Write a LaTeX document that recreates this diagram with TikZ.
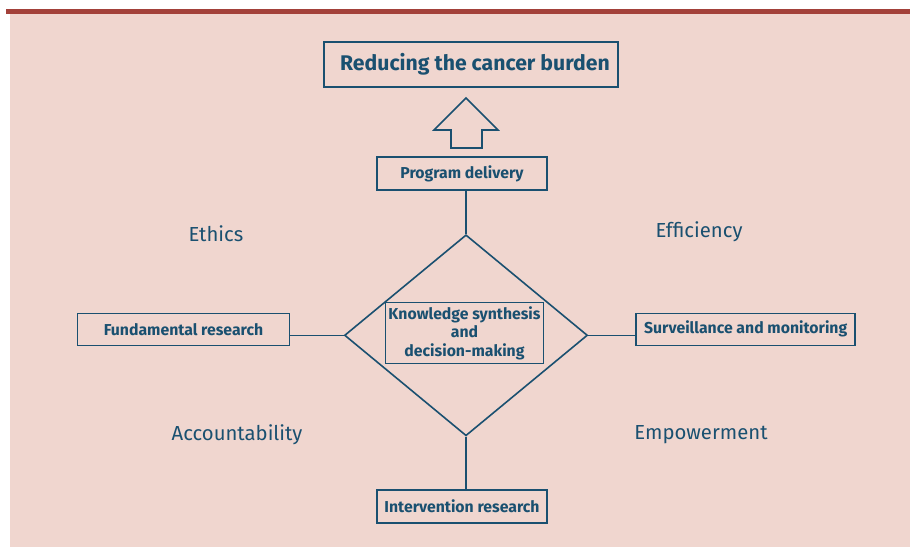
\documentclass[tikz,border=0pt]{standalone}
\usepackage{fontspec}
\setmainfont{Fira Sans}
\usetikzlibrary{shapes.geometric,positioning}

\definecolor{bgpink}{HTML}{F0D6CF}
\definecolor{barred}{HTML}{A3413A}
\definecolor{inkblue}{HTML}{1A5070}

\tikzset{
  box/.style={draw=inkblue, line width=1.6pt, text=inkblue, font=\bfseries\fontsize{15.8}{18.5}\selectfont,
    inner sep=0pt, minimum height=32pt},
  value/.style={text=inkblue, font=\fontsize{20.3}{24}\selectfont},
  link/.style={draw=inkblue, line width=1.6pt}
}

\begin{document}
\begin{tikzpicture}[x=1pt, y=-1pt]
  \useasboundingbox (0,0) rectangle (910,548);
  \fill[bgpink] (10,14) rectangle (910,547);
  \fill[barred] (6,9) rectangle (910,14);

  % goal at the top
  \node[box, minimum width=294pt, minimum height=45pt, font=\bfseries\fontsize{21.2}{25}\selectfont]
    (goal) at (471,64.5) {\hspace{8pt}Reducing the cancer burden};
  \draw[link, line join=miter] (451,148) -- (451,130) -- (434,130) -- (466,98)
    -- (498,130) -- (482,130) -- (482,148) -- cycle;

  % centre
  \node[diamond, draw=inkblue, line width=1.6pt, minimum width=243pt, minimum height=201pt,
    inner sep=0pt] (hub) at (466,335.3) {};
  \node[box, minimum width=158pt, minimum height=61pt, align=center] (synth) at (464.5,333)
    {Knowledge synthesis\\and\\decision-making};

  % the four activities
  \node[box, minimum width=170pt, minimum height=33pt] (deliver) at (462,173.5) {Program delivery};
  \node[box, minimum width=212pt] (fund) at (183.5,329.3) {Fundamental research};
  \node[box, minimum width=219pt] (surv) at (745.7,329.3) {Surveillance and monitoring};
  \node[box, minimum width=170pt, minimum height=33pt] (interv) at (462,506.3) {Intervention research};

  \draw[link] (hub.north) -- (hub.north |- deliver.south);
  \draw[link] (hub.south) -- (hub.south |- interv.north);
  \draw[link] (hub.west) -- (fund.east |- hub.west);
  \draw[link] (hub.east) -- (surv.west |- hub.east);

  % values
  \node[value] (ethics) at (216,234) {Ethics};
  \node[value] (effic) at (699,231.5) {Efficiency};
  \node[value] (account) at (237,435) {Accountability};
  \node[value] (empow) at (701,435) {Empowerment};
\end{tikzpicture}
\end{document}
